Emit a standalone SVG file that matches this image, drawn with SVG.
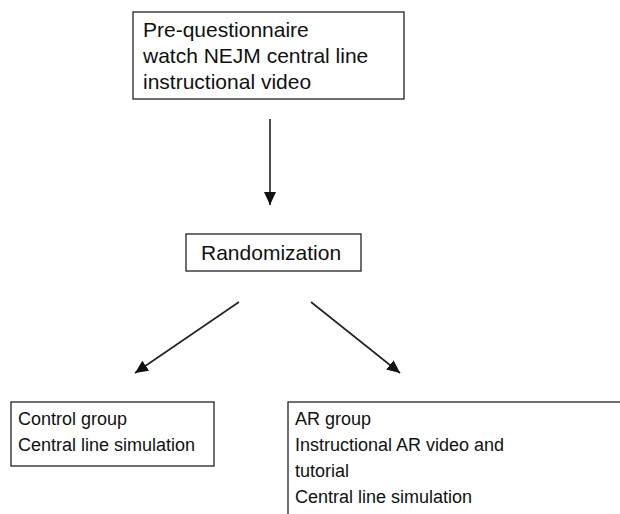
<svg xmlns="http://www.w3.org/2000/svg" width="620" height="514" viewBox="0 0 620 514">
<defs>
<style>
.box{fill:#fff;stroke:#222;stroke-width:1.3}
.t{font-family:"Liberation Sans",Arial,sans-serif;fill:#111}
.big{font-size:21px}
.sm{font-size:18px}
.con{stroke:#222;stroke-width:1.6;fill:none}
</style>
<marker id="ah" viewBox="0 0 10 10" refX="10" refY="5" markerWidth="13" markerHeight="12" markerUnits="userSpaceOnUse" orient="auto" preserveAspectRatio="none">
<path d="M0,0 L10,5 L0,10 z" fill="#111"/>
</marker>
</defs>
<rect width="620" height="514" fill="#fff"/>
<g id="connectors">
<line class="con" x1="270" y1="119" x2="270" y2="205" marker-end="url(#ah)"/>
<line class="con" x1="239" y1="302" x2="135" y2="373" marker-end="url(#ah)"/>
<line class="con" x1="311" y1="302" x2="400" y2="373" marker-end="url(#ah)"/>
</g>
<g id="node-pre">
<rect class="box" x="133" y="12" width="271" height="87"/>
<text class="t big" x="143" y="37">Pre-questionnaire</text>
<text class="t big" x="143" y="63">watch NEJM central line</text>
<text class="t big" x="143" y="89">instructional video</text>
</g>
<g id="node-rand">
<rect class="box" x="186" y="234" width="175" height="37"/>
<text class="t big" x="201" y="260">Randomization</text>
</g>
<g id="node-control">
<rect class="box" x="11" y="402" width="203" height="64"/>
<text class="t sm" x="18" y="425">Control group</text>
<text class="t sm" x="18" y="451">Central line simulation</text>
</g>
<g id="node-ar">
<rect class="box" x="288" y="402" width="360" height="140"/>
<text class="t sm" x="295" y="425">AR group</text>
<text class="t sm" x="295" y="451">Instructional AR video and</text>
<text class="t sm" x="295" y="477">tutorial</text>
<text class="t sm" x="295" y="503">Central line simulation</text>
</g>
</svg>
